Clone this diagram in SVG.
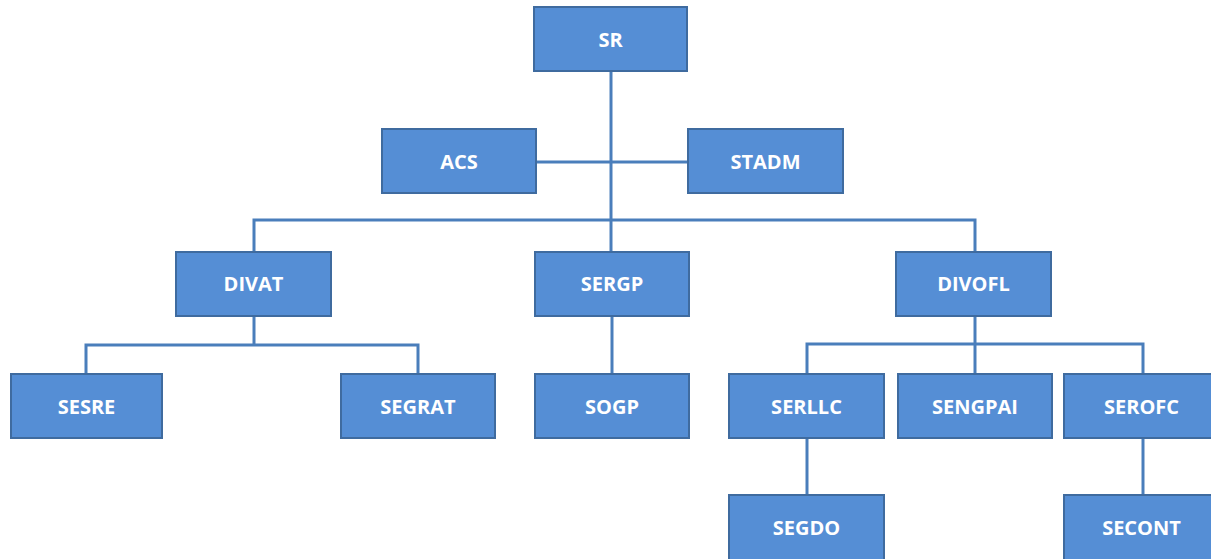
<svg xmlns="http://www.w3.org/2000/svg" width="1211" height="559" viewBox="0 0 1211 559">
<style>
.box{fill:#558ED5;stroke:#3F6B9F;stroke-width:2}
.lbl{font-family:"Open Sans","Liberation Sans",sans-serif;font-weight:bold;font-size:20px;fill:#FFFFFF;text-anchor:middle}
.ln{stroke:#4A7EBB;stroke-width:3;fill:none}
</style>
<rect width="1211" height="559" fill="#FFFFFF"/>
<g id="connectors">
<path class="ln" d="M611 71V252"/>
<path class="ln" d="M536 162H688"/>
<path class="ln" d="M254 252V220H975V252"/>
<path class="ln" d="M254 316V345"/>
<path class="ln" d="M86 373V345H418V373"/>
<path class="ln" d="M612 316V373"/>
<path class="ln" d="M975 316V373"/>
<path class="ln" d="M807 373V344H1143V373"/>
<path class="ln" d="M807 438V495"/>
<path class="ln" d="M1143 438V495"/>
</g>
<g id="SR"><rect class="box" x="534" y="7" width="153" height="64"/><text class="lbl" x="610.5" y="47">SR</text></g>
<g id="ACS"><rect class="box" x="382" y="129" width="154" height="64"/><text class="lbl" x="459" y="169">ACS</text></g>
<g id="STADM"><rect class="box" x="688" y="129" width="155" height="64"/><text class="lbl" x="765.5" y="169">STADM</text></g>
<g id="DIVAT"><rect class="box" x="176" y="252" width="155" height="64"/><text class="lbl" x="253.5" y="291">DIVAT</text></g>
<g id="SERGP"><rect class="box" x="535" y="252" width="154" height="64"/><text class="lbl" x="612" y="291">SERGP</text></g>
<g id="DIVOFL"><rect class="box" x="896" y="252" width="155" height="64"/><text class="lbl" x="973.5" y="291">DIVOFL</text></g>
<g id="SESRE"><rect class="box" x="11" y="374" width="151" height="64"/><text class="lbl" x="86.5" y="414">SESRE</text></g>
<g id="SEGRAT"><rect class="box" x="341" y="374" width="154" height="64"/><text class="lbl" x="418" y="414">SEGRAT</text></g>
<g id="SOGP"><rect class="box" x="535" y="374" width="154" height="64"/><text class="lbl" x="612" y="414">SOGP</text></g>
<g id="SERLLC"><rect class="box" x="729" y="374" width="155" height="64"/><text class="lbl" x="806.5" y="414">SERLLC</text></g>
<g id="SENGPAI"><rect class="box" x="898" y="374" width="154" height="64"/><text class="lbl" x="975" y="414">SENGPAI</text></g>
<g id="SEROFC"><rect class="box" x="1064" y="374" width="155" height="64"/><text class="lbl" x="1141.5" y="414">SEROFC</text></g>
<g id="SEGDO"><rect class="box" x="729" y="495" width="155" height="66"/><text class="lbl" x="806.5" y="535">SEGDO</text></g>
<g id="SECONT"><rect class="box" x="1064" y="495" width="155" height="66"/><text class="lbl" x="1141.5" y="535">SECONT</text></g>
</svg>
